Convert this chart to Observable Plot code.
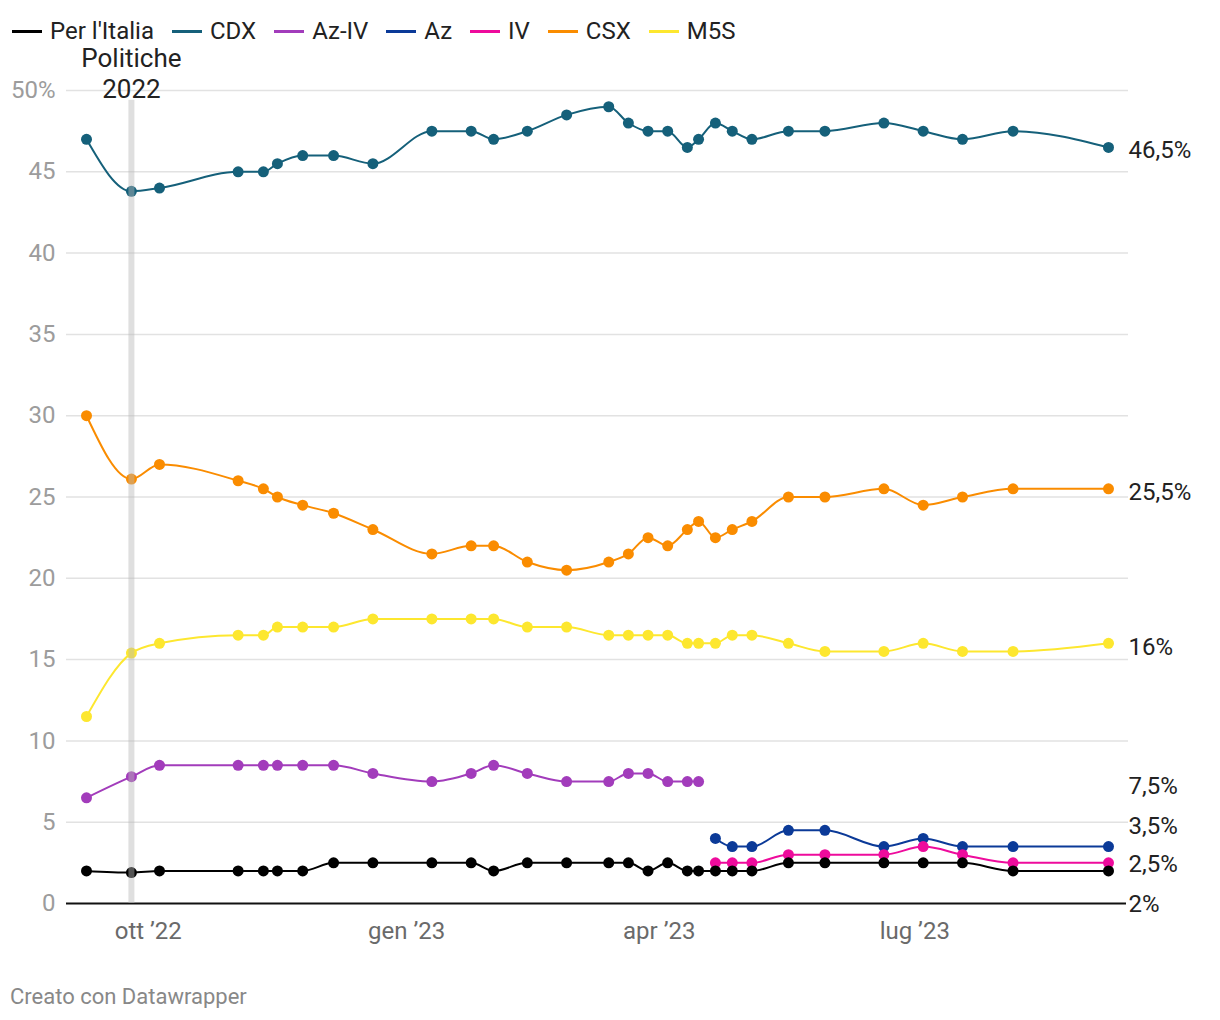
<!DOCTYPE html>
<html>
<head>
<meta charset="utf-8">
<script src="https://cdn.jsdelivr.net/npm/d3@7"></script>
<script src="https://cdn.jsdelivr.net/npm/@observablehq/plot@0.6"></script>
<style>
  html, body { margin: 0; padding: 0; background: #fff; font-family: Roboto, "Noto Sans", sans-serif; }
  #legend { display: flex; align-items: center; height: 24px; padding-top: 19px; padding-bottom: 1px; padding-left: 12px; font-size: 24px; line-height: 24px; color: #222; }
  .item { display: flex; align-items: center; margin-right: 18px; }
  .sw { width: 30px; height: 3px; margin-right: 8px; }
  #footer { margin-top: 22px; padding-left: 10px; font-size: 22px; line-height: 22px; color: #888; }
</style>
</head>
<body>
<div id="legend"></div>
<div id="chart"></div>
<div id="footer">Creato con Datawrapper</div>
<script>
// ---- data ----
const dates = ["2022-09-09","2022-09-25","2022-10-05","2022-11-02","2022-11-11","2022-11-16","2022-11-25","2022-12-06","2022-12-20","2023-01-10","2023-01-24","2023-02-01","2023-02-13","2023-02-27","2023-03-14","2023-03-21","2023-03-28","2023-04-04","2023-04-11","2023-04-15","2023-04-21","2023-04-27","2023-05-04","2023-05-17","2023-05-30","2023-06-20","2023-07-04","2023-07-18","2023-08-05","2023-09-08"];
const perItalia = [2, 1.9, 2, 2, 2, 2, 2, 2.5, 2.5, 2.5, 2.5, 2, 2.5, 2.5, 2.5, 2.5, 2, 2.5, 2, 2, 2, 2, 2, 2.5, 2.5, 2.5, 2.5, 2.5, 2, 2];
const cdx = [47, 43.8, 44, 45, 45, 45.5, 46, 46, 45.5, 47.5, 47.5, 47, 47.5, 48.5, 49, 48, 47.5, 47.5, 46.5, 47, 48, 47.5, 47, 47.5, 47.5, 48, 47.5, 47, 47.5, 46.5];
const azIv = [6.5, 7.8, 8.5, 8.5, 8.5, 8.5, 8.5, 8.5, 8, 7.5, 8, 8.5, 8, 7.5, 7.5, 8, 8, 7.5, 7.5, 7.5]; // dates 1-20
const az = [4, 3.5, 3.5, 4.5, 4.5, 3.5, 4, 3.5, 3.5, 3.5];  // dates 21-30
const iv = [2.5, 2.5, 2.5, 3, 3, 3, 3.5, 3, 2.5, 2.5];       // dates 21-30
const csx = [30, 26.1, 27, 26, 25.5, 25, 24.5, 24, 23, 21.5, 22, 22, 21, 20.5, 21, 21.5, 22.5, 22, 23, 23.5, 22.5, 23, 23.5, 25, 25, 25.5, 24.5, 25, 25.5, 25.5];
const m5s = [11.5, 15.4, 16, 16.5, 16.5, 17, 17, 17, 17.5, 17.5, 17.5, 17.5, 17, 17, 16.5, 16.5, 16.5, 16.5, 16, 16, 16, 16.5, 16.5, 16, 15.5, 15.5, 16, 15.5, 15.5, 16];

const seriesNames = ["Per l'Italia", "CDX", "Az-IV", "Az", "IV", "CSX", "M5S"];
const seriesColors = ["#000000", "#15607a", "#a23cbb", "#0b3a98", "#ee0b9c", "#fa8c00", "#fde72f"];

const yTicks = [0, 5, 10, 15, 20, 25, 30, 35, 40, 45, 50];
const xTicks = ["2022-10-01", "2023-01-01", "2023-04-01", "2023-07-01"];
const xTickLabels = ["ott \u201922", "gen \u201923", "apr \u201923", "lug \u201923"];

const electionDate = "2022-09-25";
const electionLabel = "Politiche\n2022";

const endLabels = ["46,5%", "25,5%", "16%", "7,5%", "3,5%", "2,5%", "2%"];
const endValues = [46.5, 25.5, 16, 7.5, 3.5, 2.5, 2];

// ---- build ----
const parse = s => new Date(s + "T00:00:00Z");
const D = dates.map(parse);
function rows(vals, offset) { return vals.map((v, i) => ({date: D[i + offset], v})); }
const series = {
  "Per l'Italia": rows(perItalia, 0),
  "CDX": rows(cdx, 0),
  "Az-IV": rows(azIv, 0),
  "Az": rows(az, 20),
  "IV": rows(iv, 20),
  "CSX": rows(csx, 0),
  "M5S": rows(m5s, 0)
};
const colorOf = Object.fromEntries(seriesNames.map((n, i) => [n, seriesColors[i]]));

// legend
const leg = document.getElementById("legend");
seriesNames.forEach((n, i) => {
  const it = document.createElement("div"); it.className = "item";
  const sw = document.createElement("div"); sw.className = "sw"; sw.style.background = seriesColors[i];
  const tx = document.createElement("span"); tx.textContent = n;
  it.appendChild(sw); it.appendChild(tx); leg.appendChild(it);
});

const drawOrder = ["M5S", "CSX", "CDX", "Az-IV", "Az", "IV", "Per l'Italia"];
const seriesMarks = [];
for (const n of drawOrder) {
  seriesMarks.push(Plot.line(series[n], {x: "date", y: "v", stroke: colorOf[n], strokeWidth: 2, curve: "monotone-x"}));
}
for (const n of drawOrder) {
  seriesMarks.push(Plot.dot(series[n], {x: "date", y: "v", r: 5.5, fill: colorOf[n], stroke: "none"}));
}

const endDy = [3, 3, 4, 5, -20, 1, 33];
const labelMarks = endLabels.map((t, i) =>
  Plot.text([t], {x: D[D.length - 1], y: () => endValues[i], dx: 20, dy: endDy[i], textAnchor: "start", fill: "#222", fontSize: 24})
);

const xTickDates = xTicks.map(parse);
const chart = Plot.plot({
  width: 1220,
  height: 920,
  marginTop: 46,
  marginBottom: 61,
  marginLeft: 86,
  marginRight: 112,
  style: {fontFamily: "Roboto", fontSize: "24px", background: "white", overflow: "visible"},
  x: {type: "utc", domain: [D[0], D[D.length - 1]]},
  y: {domain: [0, 50]},
  marks: [
    Plot.ruleY(yTicks.filter(v => v > 0), {stroke: "#e2e2e2", strokeWidth: 1.5, insetLeft: -20, insetRight: -20}),
    Plot.axisY(yTicks, {tickSize: 0, tickPadding: 31, fill: "#9c9c9c", label: null, fontSize: 24,
      tickFormat: d => d === 50 ? "50%" : String(d)}),
    Plot.axisX(xTickDates, {tickSize: 0, tickPadding: 18, fill: "#6a6a6a", label: null, fontSize: 24,
      tickFormat: d => xTickLabels[xTickDates.findIndex(t => +t === +d)]}),
    Plot.ruleY([0], {stroke: "#111", strokeWidth: 2, insetLeft: -20, insetRight: -18}),
    ...seriesMarks,
    Plot.ruleX([parse(electionDate)], {y1: 0, y2: 49.4, stroke: "#b8b8b8", strokeOpacity: 0.45, strokeWidth: 6}),
    Plot.text([electionLabel], {x: () => parse(electionDate), y: () => 50, dy: -18, lineAnchor: "middle", lineHeight: 1.2, fontSize: 26, fill: "#222", textAnchor: "middle"}),
    ...labelMarks
  ]
});
document.getElementById("chart").appendChild(chart);
</script>
</body>
</html>
